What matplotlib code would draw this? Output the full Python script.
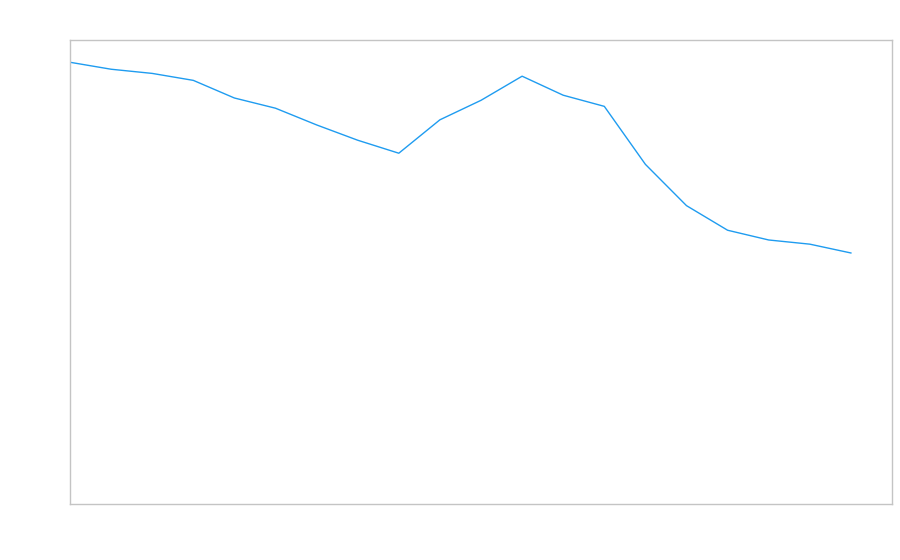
import matplotlib
matplotlib.use("Agg")
import matplotlib.pyplot as plt

# values (axis 0..100, no labels shown)
x = list(range(20))
values = [95.2, 93.7, 92.8, 91.3, 87.5, 85.3, 81.7, 78.4, 75.6, 82.8,
          87.0, 92.2, 88.1, 85.7, 73.2, 64.3, 59.0, 56.9, 56.0, 54.1]

fig = plt.figure(figsize=(9, 5.6), dpi=100)
ax = fig.add_axes([70/900, 56/560, 822/900, 464/560])

ax.plot(x, values, color="#1f9cf0", linewidth=1.0)

ax.set_xlim(0, 20)
ax.set_ylim(0, 100)
ax.set_xticks([])
ax.set_yticks([])
for s in ax.spines.values():
    s.set_color("#c4c4c4")
    s.set_linewidth(1.0)

fig.savefig("out.png", dpi=100)
